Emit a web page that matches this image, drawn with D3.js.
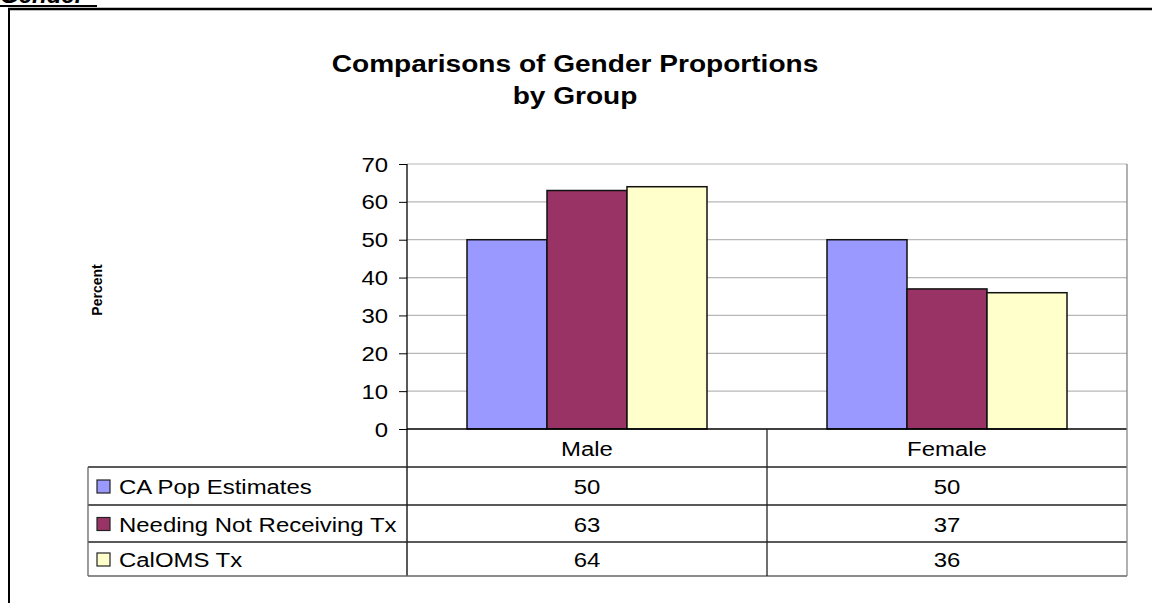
<!DOCTYPE html>
<html>
<head>
<meta charset="utf-8">
<script src="https://cdn.jsdelivr.net/npm/d3@7"></script>
<style>
  body { margin: 0; background: #fff; }
  svg { display: block; font-family: "Liberation Sans", Arial, sans-serif; }
</style>
</head>
<body>
<div id="chart"></div>
<script>
// data
const categories = ["Male", "Female"];
const seriesNames = ["CA Pop Estimates", "Needing Not Receiving Tx", "CalOMS Tx"];
const caPop = [50, 50];
const needingNotReceiving = [63, 37];
const calomsTx = [64, 36];
const yTicks = [0, 10, 20, 30, 40, 50, 60, 70];
const colors = ["#9999ff", "#993366", "#ffffcc"];

const seriesValues = [caPop, needingNotReceiving, calomsTx];

const W = 1152, H = 603;
const sx = 1.14; // the picture's text is a bit wider than plain Arial

const svg = d3.select("#chart").append("svg")
    .attr("width", W)
    .attr("height", H);

function label(x, y, txt, size, anchor, weight) {
    return svg.append("text")
        .attr("transform", `translate(${x},${y}) scale(${sx},1)`)
        .attr("text-anchor", anchor || "start")
        .attr("font-size", size)
        .attr("font-weight", weight || "normal")
        .attr("fill", "#000")
        .text(txt);
}

// page bits: cut-off heading and the frame
svg.append("text")
    .attr("x", 0).attr("y", 3)
    .attr("font-size", 24)
    .attr("font-weight", "bold")
    .attr("font-style", "italic")
    .text("Gender");
svg.append("rect").attr("x", 0).attr("y", 5).attr("width", 97).attr("height", 2).attr("fill", "#000");
svg.append("line").attr("x1", 8).attr("x2", W).attr("y1", 9).attr("y2", 9)
    .attr("stroke", "#000").attr("stroke-width", 2.5);
svg.append("line").attr("x1", 9).attr("x2", 9).attr("y1", 9).attr("y2", H)
    .attr("stroke", "#000").attr("stroke-width", 2);

// title
svg.append("text")
    .attr("transform", `translate(575,72) scale(1.17,1)`)
    .attr("text-anchor", "middle")
    .attr("font-size", 24).attr("font-weight", "bold")
    .text("Comparisons of Gender Proportions");
svg.append("text")
    .attr("transform", `translate(575,104) scale(1.17,1)`)
    .attr("text-anchor", "middle")
    .attr("font-size", 24).attr("font-weight", "bold")
    .text("by Group");

// scales
const plotLeft = 407, plotRight = 1127, plotTop = 164, plotBottom = 429;
const x = d3.scaleBand().domain(categories).range([plotLeft, plotRight]).padding(0);
const x1 = d3.scaleBand().domain(seriesNames).range([0, x.bandwidth()])
    .paddingInner(0).paddingOuter(0.75);
const y = d3.scaleLinear().domain([0, 70]).range([plotBottom, plotTop]);

// gridlines
svg.append("g")
    .selectAll("line")
    .data(yTicks.filter(d => d > 0))
    .enter().append("line")
    .attr("x1", plotLeft).attr("x2", plotRight)
    .attr("y1", d => y(d)).attr("y2", d => y(d))
    .attr("stroke", "#b8b8b8").attr("stroke-width", 1.2);

// bars
const groups = svg.append("g")
    .selectAll("g")
    .data(categories)
    .enter().append("g")
    .attr("transform", d => `translate(${x(d)},0)`);

groups.selectAll("rect")
    .data((c, ci) => seriesNames.map((s, si) => ({ s, si, v: seriesValues[si][ci] })))
    .enter().append("rect")
    .attr("x", d => x1(d.s))
    .attr("y", d => y(d.v))
    .attr("width", x1.bandwidth())
    .attr("height", d => y(0) - y(d.v))
    .attr("fill", d => colors[d.si])
    .attr("stroke", "#111")
    .attr("stroke-width", 1.5);

// y axis
const yAxis = svg.append("g")
    .attr("transform", `translate(${plotLeft},0)`)
    .call(d3.axisLeft(y).tickValues(yTicks).tickSize(8).tickPadding(11).tickFormat(d3.format("d")));
yAxis.select(".domain").remove();
yAxis.selectAll(".tick line").attr("stroke", "#000");
yAxis.selectAll(".tick text")
    .attr("font-size", 21)
    .attr("font-family", "Liberation Sans, Arial, sans-serif")
    .attr("fill", "#000")
    .attr("dy", null)
    .attr("transform", function() {
        const tx = +d3.select(this).attr("x");
        return `translate(${tx},7) scale(${sx},1)`;
    })
    .attr("x", 0);

// data table
const rowTop = [429, 467, 505, 542];
const tableBottom = 576;
const tableLeft = 88;
const lineColor = "#222";

svg.append("line").attr("x1", plotLeft).attr("x2", plotLeft).attr("y1", plotTop).attr("y2", tableBottom)
    .attr("stroke", "#000").attr("stroke-width", 1.3);
svg.append("line").attr("x1", plotLeft).attr("x2", plotRight).attr("y1", plotBottom).attr("y2", plotBottom)
    .attr("stroke", "#000").attr("stroke-width", 1.3);
rowTop.slice(1).concat([tableBottom]).forEach(ry => {
    svg.append("line").attr("x1", tableLeft).attr("x2", plotRight).attr("y1", ry).attr("y2", ry)
        .attr("stroke", ry === tableBottom ? "#666" : lineColor).attr("stroke-width", 1.3);
});
svg.append("line").attr("x1", tableLeft).attr("x2", tableLeft).attr("y1", rowTop[1]).attr("y2", tableBottom)
    .attr("stroke", "#666").attr("stroke-width", 1.3);
svg.append("line").attr("x1", x("Female")).attr("x2", x("Female")).attr("y1", plotBottom).attr("y2", tableBottom)
    .attr("stroke", lineColor).attr("stroke-width", 1.3);
svg.append("line").attr("x1", plotRight).attr("x2", plotRight).attr("y1", plotTop).attr("y2", tableBottom)
    .attr("stroke", "#888").attr("stroke-width", 1.3);

// category headers
categories.forEach(c => {
    label(x(c) + x.bandwidth() / 2, 456, c, 21, "middle");
});

// legend rows and values
seriesNames.forEach((s, si) => {
    const top = rowTop[si + 1];
    const bottom = si + 2 < rowTop.length ? rowTop[si + 2] : tableBottom;
    const mid = (top + bottom) / 2;
    svg.append("rect")
        .attr("x", 97).attr("y", mid - 6)
        .attr("width", 13).attr("height", 13)
        .attr("fill", colors[si])
        .attr("stroke", "#222").attr("stroke-width", 1.2);
    label(119, mid + 8, s, 21, "start");
    categories.forEach((c, ci) => {
        label(x(c) + x.bandwidth() / 2, mid + 8, seriesValues[si][ci], 21, "middle");
    });
});

// y axis title
svg.append("text")
    .attr("transform", "translate(102,290) rotate(-90)")
    .attr("text-anchor", "middle")
    .attr("font-size", 14).attr("font-weight", "bold")
    .text("Percent");
</script>
</body>
</html>
